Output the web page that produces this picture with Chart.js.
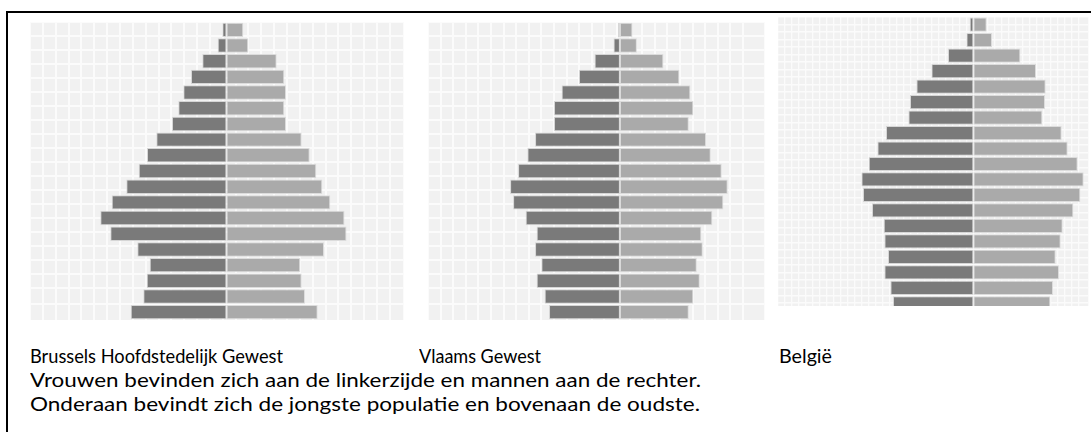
<!DOCTYPE html>
<html>
<head>
<meta charset="utf-8">
<script src="https://cdn.jsdelivr.net/npm/chart.js@4.4.1/dist/chart.umd.min.js"></script>
<style>
  html, body { margin: 0; padding: 0; background: #fff; width: 1091px; height: 432px; overflow: hidden; }
  #frame { position: absolute; left: 6px; top: 11px; width: 1200px; height: 600px; border: 2px solid #000; box-sizing: border-box; }
  .panel { position: absolute; overflow: hidden; }
  .panel canvas { display: block; }
  .txt { position: absolute; font-family: 'Lato', 'Open Sans', sans-serif; font-size: 20px; line-height: 24px; color: #000; white-space: nowrap; transform-origin: 0 50%; }
</style>
</head>
<body>
<div id="frame"></div>

<div class="panel" style="left:30px; top:22px; width:374px; height:298px;"><canvas id="c1" width="374" height="298"></canvas></div>
<div class="panel" style="left:428px; top:22px; width:337px; height:298px;"><canvas id="c2" width="337" height="298"></canvas></div>
<div class="panel" style="left:778px; top:17px; width:311px; height:289px;"><canvas id="c3" width="311" height="294"></canvas></div>

<div class="txt" style="left:30px; top:343px;" data-w="253">Brussels Hoofdstedelijk Gewest</div>
<div class="txt" style="left:419px; top:343px;" data-w="122">Vlaams Gewest</div>
<div class="txt" style="left:779px; top:343px;" data-w="53">België</div>
<div class="txt" style="left:30px; top:367px;" data-w="671">Vrouwen bevinden zich aan de linkerzijde en mannen aan de rechter.</div>
<div class="txt" style="left:30px; top:391px;" data-w="670">Onderaan bevindt zich de jongste populatie en bovenaan de oudste.</div>

<script>
// Age groups, youngest first (bottom of each pyramid)
const ageGroups = ['0-4','5-9','10-14','15-19','20-24','25-29','30-34','35-39','40-44','45-49',
                   '50-54','55-59','60-64','65-69','70-74','75-79','80-84','85-89','90+'];

// Values (relative units, youngest first)
const brusselsWomen = [95.8, 83.2, 79.8, 76.8, 89.2, 116.2, 126.2, 114.8, 100.2, 87.8, 79.5, 70.2, 54.5, 48.2, 43.2, 35.5, 24.2, 8.8, 4.2];
const brusselsMen   = [91.2, 78.5, 75.2, 73.8, 97.5, 120.0, 118.0, 103.8, 95.8, 89.8, 83.2, 75.2, 59.5, 57.8, 59.5, 57.8, 50.2, 21.8, 16.8];

const vlaamsWomen = [71.0, 75.4, 83.4, 78.7, 85.0, 83.4, 94.4, 107.0, 110.0, 102.0, 92.7, 85.0, 66.0, 66.0, 58.4, 41.0, 25.4, 6.4, 2.0];
const vlaamsMen   = [69.0, 73.6, 80.0, 77.0, 83.0, 81.6, 92.6, 103.6, 108.0, 102.0, 91.0, 86.3, 69.0, 73.6, 70.6, 59.6, 43.6, 17.0, 12.6];

const belgieWomen = [80.4, 83.0, 89.0, 85.4, 89.0, 89.7, 101.4, 110.4, 112.0, 104.7, 96.0, 87.4, 65.0, 63.4, 57.0, 42.0, 25.4, 7.0, 3.7];
const belgieMen   = [77.0, 79.6, 85.6, 82.3, 87.3, 89.3, 100.0, 107.0, 110.3, 104.3, 94.3, 88.3, 69.0, 71.6, 72.3, 62.6, 47.0, 18.6, 13.3];

const WOMEN_COLOR = '#7a7a7a';
const MEN_COLOR = '#aaaaaa';

// fit each caption to the extent it has in the reference
document.querySelectorAll('.txt[data-w]').forEach(el => {
  const natural = el.getBoundingClientRect().width;
  const target = parseFloat(el.dataset.w);
  if (natural > 0) el.style.transform = 'scaleX(' + (target / natural).toFixed(4) + ')';
});

const areaBg = {
  id: 'areaBg',
  beforeDraw(chart) {
    const a = chart.chartArea, ctx = chart.ctx;
    ctx.save();
    ctx.fillStyle = '#f1f1f1';
    ctx.fillRect(a.left, a.top, a.right - a.left, a.bottom - a.top);
    ctx.restore();
  }
};

function pyramid(id, women, men, xMin, xMax, gridCols, gridRows, gridWidth) {
  const gridAxis = (max, pos, reverse) => ({
    type: 'linear', position: pos, min: 0, max: max, reverse: reverse,
    ticks: { display: false, stepSize: 1 },
    grid: { color: '#fbfbfb', lineWidth: gridWidth, drawTicks: false },
    border: { display: false }
  });
  return new Chart(document.getElementById(id), {
    type: 'bar',
    data: {
      labels: ageGroups,
      datasets: [
        { label: 'Vrouwen', data: women.map(v => -v), backgroundColor: WOMEN_COLOR,
          borderColor: '#d6d6d6', borderWidth: 1, borderSkipped: false },
        { label: 'Mannen', data: men, backgroundColor: MEN_COLOR,
          borderColor: '#dcdcdc', borderWidth: 1, borderSkipped: false }
      ]
    },
    options: {
      indexAxis: 'y',
      responsive: false,
      animation: false,
      devicePixelRatio: 1,
      layout: { padding: 0 },
      datasets: { bar: { barPercentage: 0.92, categoryPercentage: 1.0 } },
      plugins: { legend: { display: false }, tooltip: { enabled: false }, title: { display: false } },
      scales: {
        x: { type: 'linear', stacked: true, min: xMin, max: xMax, display: false },
        y: { type: 'category', stacked: true, reverse: true, display: false },
        gx: gridAxis(gridCols, 'bottom', false),
        gy: gridAxis(gridRows, 'left', true)
      }
    },
    plugins: [areaBg]
  });
}

pyramid('c1', brusselsWomen, brusselsMen, -196.5, 177.5, 29.1, 20.3, 2);
pyramid('c2', vlaamsWomen, vlaamsMen, -192.2, 145.3, 26.75, 20.3, 2);
pyramid('c3', belgieWomen, belgieMen, -195.4, 115.6, 44.4, 38.1, 1.4);
</script>
</body>
</html>
